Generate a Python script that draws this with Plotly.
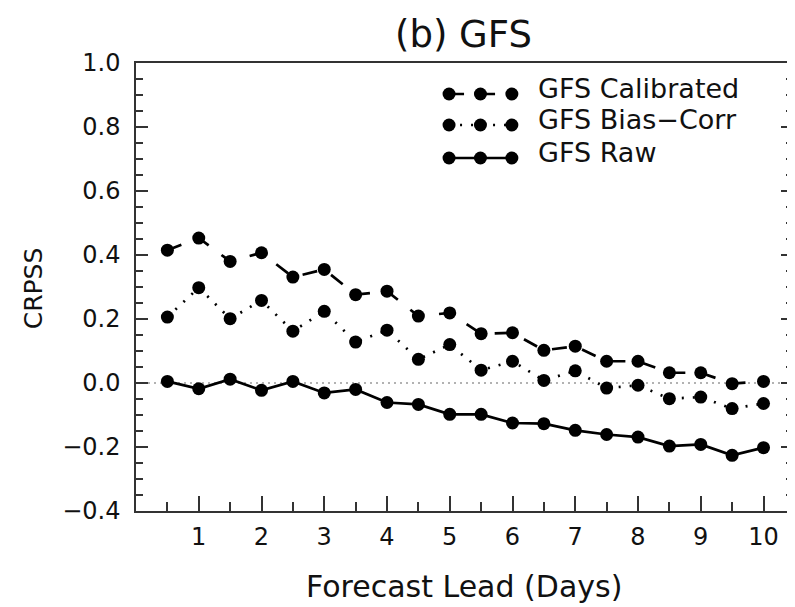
import plotly.graph_objects as go

# ---- data ----
leads = [0.5, 1, 1.5, 2, 2.5, 3, 3.5, 4, 4.5, 5, 5.5, 6, 6.5, 7, 7.5, 8, 8.5, 9, 9.5, 10]
calibrated = [0.415, 0.453, 0.380, 0.407, 0.331, 0.355, 0.276, 0.287, 0.209, 0.219,
              0.154, 0.157, 0.102, 0.115, 0.068, 0.068, 0.032, 0.032, -0.002, 0.005]
bias_corr = [0.206, 0.298, 0.201, 0.258, 0.162, 0.224, 0.128, 0.165, 0.074, 0.120,
             0.040, 0.068, 0.008, 0.038, -0.016, -0.007, -0.049, -0.044, -0.080, -0.064]
raw = [0.005, -0.018, 0.012, -0.023, 0.005, -0.031, -0.020, -0.061, -0.067, -0.098,
       -0.098, -0.125, -0.127, -0.148, -0.161, -0.169, -0.197, -0.192, -0.226, -0.202]
series_names = ["GFS Calibrated", "GFS Bias\u2212Corr", "GFS Raw"]
xtick_vals = [1, 2, 3, 4, 5, 6, 7, 8, 9, 10]
ytick_vals = [-0.4, -0.2, 0.0, 0.2, 0.4, 0.6, 0.8, 1.0]
ytick_text = ["\u22120.4", "\u22120.2", "0.0", "0.2", "0.4", "0.6", "0.8", "1.0"]

# ---- style ----
FONT = "DejaVu Sans"
INK = "#111111"
AXC = "#333333"
OFF = 8                      # page body margin of the browser
W, H = 795 - OFF, 607 - OFF
ML, MT, MR = 136 - OFF, 63 - OFF, 0
MB = H - (511 - OFF)
dashes = ["15px,16px", "2px,9px", "solid"]
MSIZE = 13
LW = 2.7

fig = go.Figure()
for name, ys, dash in zip(series_names, [calibrated, bias_corr, raw], dashes):
    fig.add_trace(go.Scatter(
        x=leads, y=ys, mode="lines+markers", name=name, showlegend=False,
        line=dict(color="black", width=LW, dash=dash),
        marker=dict(color="black", size=MSIZE),
    ))

# ---- custom legend drawn on a pixel overlay axis (reference-image pixel coords) ----
leg_marker_x = [450, 481.5, 513]
leg_rows = [94, 125, 158]
leg_text_rows = [88, 119, 152]
for name, dash, ry, ty in zip(series_names, dashes, leg_rows, leg_text_rows):
    fig.add_trace(go.Scatter(
        x=leg_marker_x, y=[ry] * len(leg_marker_x), xaxis="x2", yaxis="y2",
        mode="lines+markers", showlegend=False, hoverinfo="skip",
        line=dict(color="black", width=LW, dash=dash),
        marker=dict(color="black", size=MSIZE),
    ))
    fig.add_annotation(x=537, y=ty, xref="x2", yref="y2", text=name,
                       showarrow=False, xanchor="left", yanchor="middle",
                       font=dict(family=FONT, size=27, color=INK))

half_days = [v for v in leads if v % 1]

fig.add_shape(type="line", xref="paper", x0=0, x1=1, yref="y", y0=0, y1=0,
              line=dict(color="#666666", width=1.2, dash="2px,4px"), layer="below")

fig.update_layout(
    width=W, height=H,
    margin=dict(l=ML, r=MR, t=MT, b=MB, pad=0),
    paper_bgcolor="white", plot_bgcolor="white",
    font=dict(family=FONT, color=INK),
    xaxis=dict(
        range=[0, 10.47], tickmode="array", tickvals=xtick_vals,
        ticks="inside", ticklen=15, tickwidth=1.5, tickcolor=AXC,
        showline=True, linecolor=AXC, linewidth=1.5, mirror=True,
        showgrid=False, zeroline=False,
        tickfont=dict(family=FONT, size=24, color=INK), ticklabelstandoff=3,
        minor=dict(tickmode="array", tickvals=half_days, ticks="inside",
                   ticklen=9, tickwidth=1.5, tickcolor=AXC, showgrid=False),
    ),
    yaxis=dict(
        range=[-0.4, 1.0], tickmode="array", tickvals=ytick_vals, ticktext=ytick_text,
        ticks="inside", ticklen=12, tickwidth=1.5, tickcolor=AXC,
        showline=True, linecolor=AXC, linewidth=1.5, mirror="allticks",
        showgrid=False, zeroline=False,
        tickfont=dict(family=FONT, size=24, color=INK), ticklabelstandoff=9,
        minor=dict(dtick=0.05, tick0=0, ticks="inside", ticklen=7,
                   tickwidth=1.5, tickcolor=AXC, showgrid=False),
    ),
    xaxis2=dict(range=[136, 795], overlaying="x", visible=False, fixedrange=True),
    yaxis2=dict(range=[511, 63], overlaying="y", visible=False, fixedrange=True),
    showlegend=False,
)

# annotation helpers: reference-image pixel -> paper coords
plot_w = W - ML - MR
plot_h = H - MT - MB


def px(x):
    return (x - 136) / plot_w


def py(y):
    return (511 - y) / plot_h


fig.add_annotation(text="(b) GFS", xref="paper", yref="paper",
                   x=px(464), y=py(34),
                   showarrow=False, xanchor="center", yanchor="middle",
                   font=dict(family=FONT, size=37, color=INK))
fig.add_annotation(text="Forecast Lead (Days)", xref="paper", yref="paper",
                   x=px(465), y=py(586),
                   showarrow=False, xanchor="center", yanchor="middle",
                   font=dict(family=FONT, size=30, color=INK))
fig.add_annotation(text="CRPSS", xref="paper", yref="paper",
                   x=px(33), y=py(288), textangle=-90,
                   showarrow=False, xanchor="center", yanchor="middle",
                   font=dict(family=FONT, size=25, color=INK))

fig.write_html("out.html")
